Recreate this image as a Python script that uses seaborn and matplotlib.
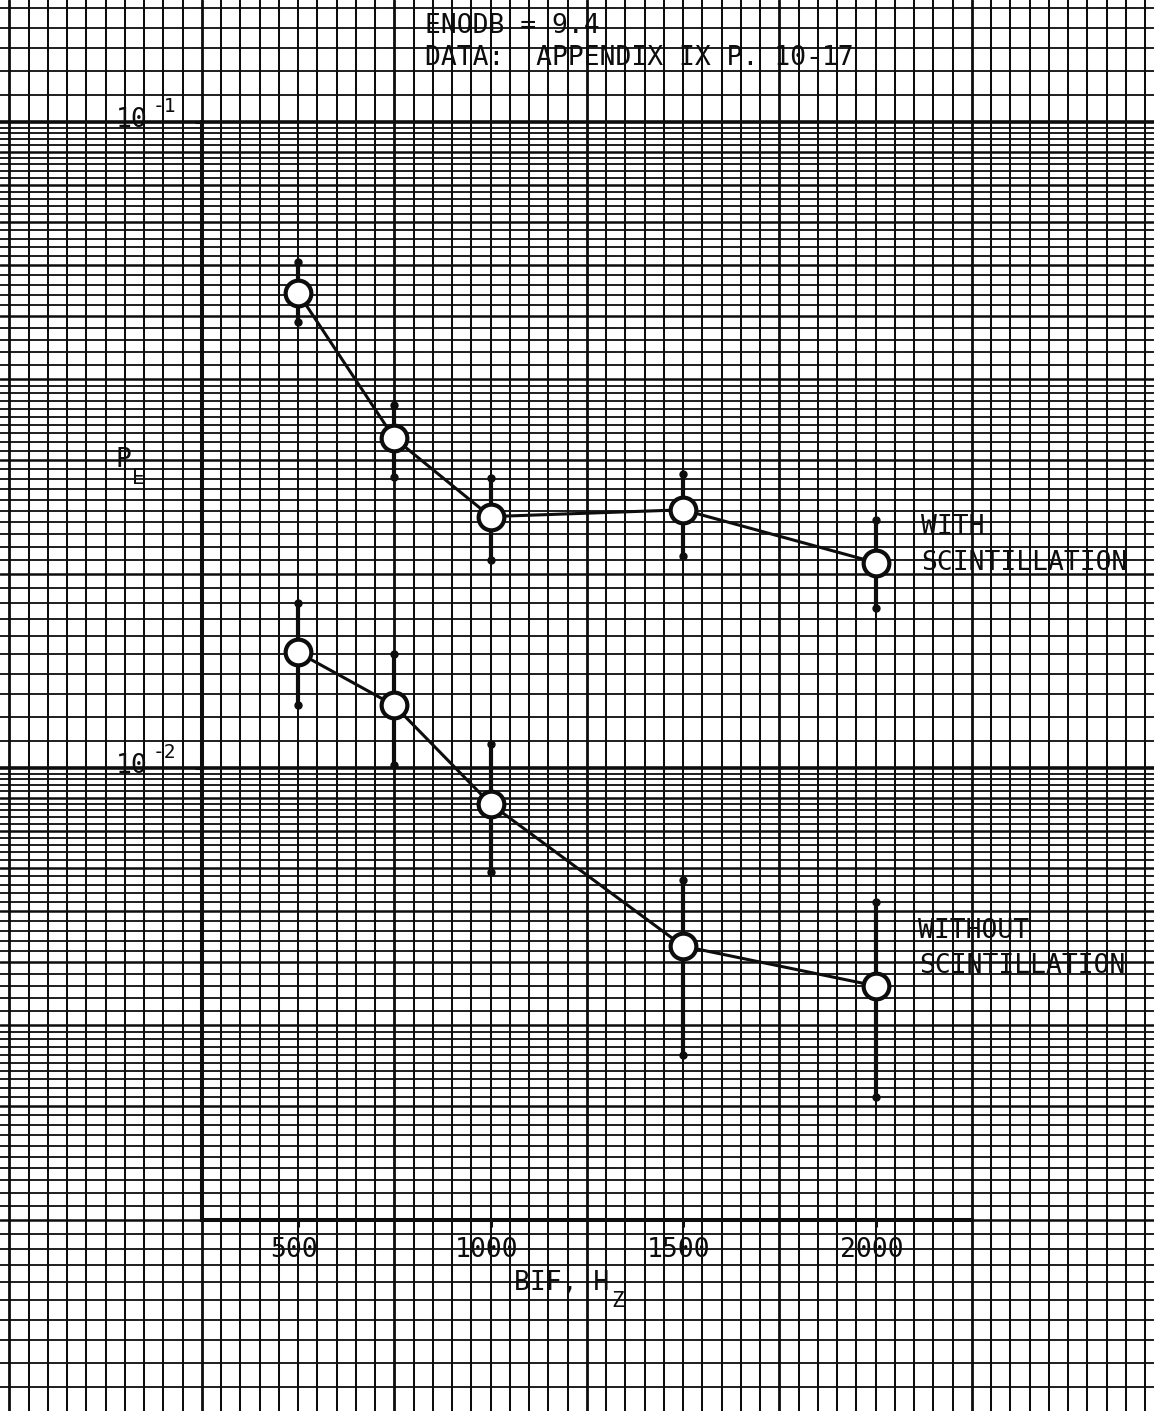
import numpy as np
import pandas as pd
import matplotlib
matplotlib.use("Agg")
import matplotlib.pyplot as plt
from matplotlib.ticker import NullLocator
import seaborn as sns

# ---- data -------------------------------------------------------------
bif_hz = [500, 750, 1000, 1500, 2000]

pe_with = [0.0544, 0.0324, 0.0245, 0.0251, 0.0208]
pe_with_hi = [0.0607, 0.0365, 0.0281, 0.0285, 0.0242]
pe_with_lo = [0.0490, 0.0282, 0.0210, 0.0213, 0.0177]

pe_without = [0.0151, 0.0125, 0.0088, 0.0053, 0.0046]
pe_without_hi = [0.0180, 0.0150, 0.0109, 0.0067, 0.0062]
pe_without_lo = [0.0125, 0.0101, 0.0069, 0.0036, 0.0031]

x_ticks = [500, 1000, 1500, 2000]
x_tick_labels = ["500", "1000", "1500", "2000"]
y_decades = [-1, -2]

# ---- figure geometry ----------------------------------------------------
W, H, DPI = 1154, 1411, 100
INK = "#0d0d0d"

XMIN, XMAX = 250, 2250
YMIN, YMAX = 0.002, 0.1
X0_PX, X1_PX = 201.75, 971.75      # left / right end of the x axis
Y_TOP_PX = 122.0                   # height of the 1e-1 line
DEC_PX = 646.0                     # one log decade on the paper
px_per_hz = (X1_PX - X0_PX) / (XMAX - XMIN)


def ypx(p):
    return Y_TOP_PX + DEC_PX * (np.log10(YMAX) - np.log10(p))


Y_BOT_PX = ypx(YMIN)

sns.set_theme(style="white")
plt.rcParams["font.family"] = ["DejaVu Sans Mono", "DejaVu Sans"]

fig = plt.figure(figsize=(W / DPI, H / DPI), dpi=DPI)
fig.patch.set_facecolor("white")

# ---- semi-log graph paper over the whole sheet ---------------------------
bg = fig.add_axes([0, 0, 1, 1])
bg.set_xlim(XMIN - X0_PX / px_per_hz, XMAX + (W - X1_PX) / px_per_hz)
bg.set_yscale("log")
bg.set_ylim(10 ** (np.log10(YMAX) - (H - Y_TOP_PX) / DEC_PX),
            10 ** (np.log10(YMAX) + Y_TOP_PX / DEC_PX))
bg.axis("off")

x_lo, x_hi = bg.get_xlim()
for xv in np.arange(np.ceil(x_lo / 50) * 50, x_hi, 50):
    heavy = int(round(xv - 250)) % 500 == 0
    bg.axvline(xv, color=INK, lw=2.0 if heavy else 1.45, zorder=0)

mantissas = np.round(np.concatenate([np.arange(1.0, 4.0, 0.1),
                                     np.arange(4.0, 10.0, 0.2)]), 1)
y_lo, y_hi = bg.get_ylim()
for dec in range(-4, 1):
    for m in mantissas:
        v = m * 10.0 ** dec
        if not (y_lo <= v <= y_hi):
            continue
        if m == 1.0:
            lw = 2.6
        elif float(m).is_integer():
            lw = 1.8
        else:
            lw = 1.3
        bg.axhline(v, color=INK, lw=lw, zorder=0)

# ---- plotting frame -------------------------------------------------------
ax = fig.add_axes([X0_PX / W, 1 - Y_BOT_PX / H,
                   (X1_PX - X0_PX) / W, (Y_BOT_PX - Y_TOP_PX) / H])
ax.set_facecolor("none")
ax.set_xlim(XMIN, XMAX)
ax.set_yscale("log")
ax.set_ylim(YMIN, YMAX)
for s in ["top", "right"]:
    ax.spines[s].set_visible(False)
for s in ["left", "bottom"]:
    ax.spines[s].set_linewidth(2.9)
    ax.spines[s].set_color(INK)
ax.set_xticks(x_ticks)
ax.set_xticklabels([])
ax.set_yticks([10.0 ** d for d in y_decades])
ax.set_yticklabels([])
ax.yaxis.set_minor_locator(NullLocator())
ax.tick_params(axis="both", direction="out", length=5, width=2.2, color=INK,
               left=True, bottom=True)

# ---- measured error probability ---------------------------------------------
for lo, hi in [(pe_with_lo, pe_with_hi), (pe_without_lo, pe_without_hi)]:
    ax.vlines(bif_hz, lo, hi, color=INK, lw=3.0, zorder=3)
    ax.plot(bif_hz, lo, "o", ms=5, color=INK, zorder=3, ls="none")
    ax.plot(bif_hz, hi, "o", ms=5, color=INK, zorder=3, ls="none")

df = pd.DataFrame({
    "bif": bif_hz * 2,
    "pe": pe_with + pe_without,
    "series": ["with"] * len(bif_hz) + ["without"] * len(bif_hz),
})
for name, sub in df.groupby("series"):
    sns.lineplot(data=sub, x="bif", y="pe", ax=ax, color=INK, lw=2.2,
                 marker="o", ms=18.5, mfc="white", mec=INK, mew=3.0,
                 estimator=None, errorbar=None, legend=False, zorder=4)
ax.set_xlabel("")
ax.set_ylabel("")


# ---- lettering ---------------------------------------------------------------
def letter(xp, yp, s, size=19, ha="left"):
    fig.text(xp / W, 1 - yp / H, s, fontsize=size, color=INK,
             ha=ha, va="baseline", zorder=6)


letter(425, 33, "ENODB = 9.4")
letter(425, 65, "DATA:  APPENDIX IX P. 10-17")

for d in y_decades:
    yb = ypx(10.0 ** d)
    letter(148, yb + 5, "10", ha="right")
    letter(153, yb - 10, f"{d}", size=14)

letter(116, 467, "P")
letter(132, 484, "E", size=15)

for xv, s in zip(x_ticks, x_tick_labels):
    xp = X0_PX + (xv - XMIN) * px_per_hz - 4
    letter(xp, 1257, s, ha="center")

letter(514, 1290, "BIF, H")
letter(611, 1307, "Z", size=15)

letter(921, 534, "WITH")
letter(921, 570, "SCINTILLATION")
letter(918, 938, "WITHOUT")
letter(919, 973, "SCINTILLATION")

fig.savefig("out.png", dpi=DPI, facecolor="white")
